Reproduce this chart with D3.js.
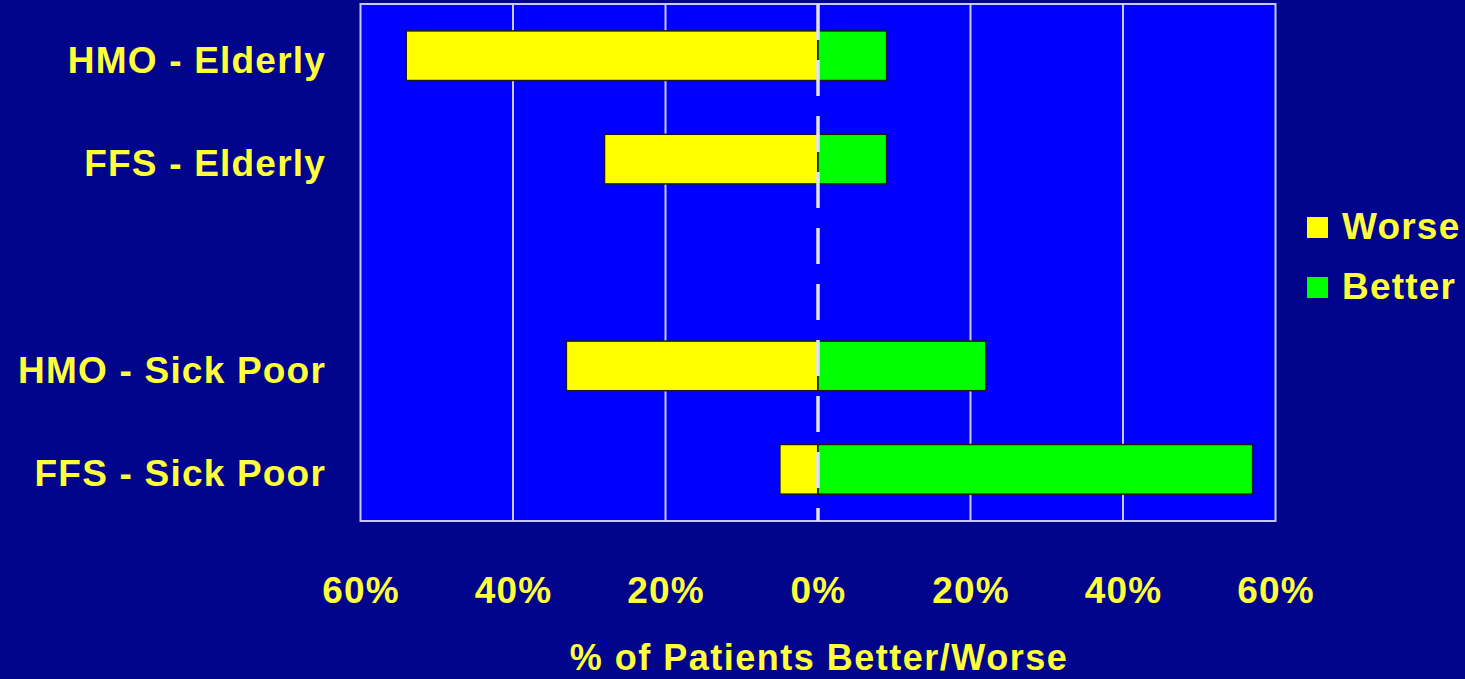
<!DOCTYPE html>
<html>
<head>
<meta charset="utf-8">
<script src="https://cdn.jsdelivr.net/npm/d3@7"></script>
<style>
  html, body { margin: 0; padding: 0; background: #00058c; }
  svg { display: block; }
  text { font-family: "Liberation Sans", Arial, sans-serif; font-weight: bold; fill: #ffff3a; }
</style>
</head>
<body>
<svg id="chart" width="1465" height="679"></svg>
<script>
// Patient outcome shares by plan type and group (percent)
const categories = ["HMO - Elderly", "FFS - Elderly", "HMO - Sick Poor", "FFS - Sick Poor"];
const worse = [54, 28, 33, 5];
const better = [9, 9, 22, 57];
const seriesNames = ["Worse", "Better"];
const seriesColors = ["#ffff00", "#00ff00"];
const tickValues = [-60, -40, -20, 0, 20, 40, 60];
const axisTitle = "% of Patients Better/Worse";

const svg = d3.select("#chart");
const W = 1465, H = 679;

svg.append("rect").attr("width", W).attr("height", H).attr("fill", "#00058c");

const plot = { left: 360.5, right: 1275.5, top: 4, bottom: 521 };

const x = d3.scaleLinear().domain([-60, 60]).range([plot.left, plot.right]);

// A blank row separates the Elderly pair from the Sick Poor pair
const rows = [categories[0], categories[1], "", categories[2], categories[3]];
const y = d3.scaleBand().domain(rows).range([plot.top, plot.bottom])
  .paddingInner(0.52).paddingOuter(0.26);

// Plot background
svg.append("rect")
  .attr("x", plot.left).attr("y", plot.top)
  .attr("width", plot.right - plot.left).attr("height", plot.bottom - plot.top)
  .attr("fill", "#0000ff");

// Vertical gridlines
svg.append("g").selectAll("line")
  .data(tickValues.filter(v => v !== 0 && Math.abs(v) !== 60))
  .join("line")
  .attr("x1", d => x(d)).attr("x2", d => x(d))
  .attr("y1", plot.top).attr("y2", plot.bottom)
  .attr("stroke", "#c8c8ff").attr("stroke-width", 2);

// Plot frame
svg.append("rect")
  .attr("x", plot.left).attr("y", plot.top)
  .attr("width", plot.right - plot.left).attr("height", plot.bottom - plot.top)
  .attr("fill", "none").attr("stroke", "#c8c8ff").attr("stroke-width", 2);

const rowsData = categories.map((c, i) => ({ c, worse: worse[i], better: better[i] }));

// Worse bars extend left of zero
svg.append("g").selectAll("rect")
  .data(rowsData).join("rect")
  .attr("x", d => x(-d.worse))
  .attr("y", d => y(d.c))
  .attr("width", d => x(0) - x(-d.worse))
  .attr("height", y.bandwidth())
  .attr("fill", seriesColors[0])
  .attr("stroke", "#1a1a1a").attr("stroke-width", 1.5);

// Better bars extend right of zero
svg.append("g").selectAll("rect")
  .data(rowsData).join("rect")
  .attr("x", x(0))
  .attr("y", d => y(d.c))
  .attr("width", d => x(d.better) - x(0))
  .attr("height", y.bandwidth())
  .attr("fill", seriesColors[1])
  .attr("stroke", "#1a1a1a").attr("stroke-width", 1.5);

// Dashed zero line
svg.append("line")
  .attr("x1", x(0)).attr("x2", x(0))
  .attr("y1", plot.top).attr("y2", plot.bottom)
  .attr("stroke", "#e0e0ff").attr("stroke-width", 3.5)
  .attr("stroke-dasharray", "36,20");

// Category labels
svg.append("g").selectAll("text")
  .data(categories).join("text")
  .attr("x", 326)
  .attr("y", d => y(d) + y.bandwidth() / 2 + 17)
  .attr("text-anchor", "end")
  .attr("font-size", 37)
  .attr("letter-spacing", 1.2)
  .text(d => d);

// Bottom axis with absolute percentages
const xAxis = d3.axisBottom(x)
  .tickValues(tickValues)
  .tickSize(0)
  .tickPadding(56)
  .tickFormat(d => Math.abs(d) + "%");

const ax = svg.append("g")
  .attr("transform", `translate(0,${plot.bottom})`)
  .call(xAxis);
ax.select(".domain").remove();
ax.selectAll("text")
  .attr("font-size", 37)
  .attr("letter-spacing", 1.2)
  .attr("font-family", null)
  .attr("fill", "#ffff3a");

// Axis title
svg.append("text")
  .attr("x", (plot.left + plot.right) / 2 + 1)
  .attr("y", 670)
  .attr("text-anchor", "middle")
  .attr("font-size", 36)
  .attr("letter-spacing", 1.5)
  .text(axisTitle);

// Legend
const legend = svg.append("g").selectAll("g")
  .data(seriesNames).join("g")
  .attr("transform", (d, i) => `translate(1307,${217 + i * 60})`);
legend.append("rect")
  .attr("width", 21).attr("height", 21)
  .attr("fill", (d, i) => seriesColors[i]);
legend.append("text")
  .attr("x", 35).attr("y", 22)
  .attr("font-size", 37)
  .attr("letter-spacing", 1.2)
  .text(d => d);
</script>
</body>
</html>
